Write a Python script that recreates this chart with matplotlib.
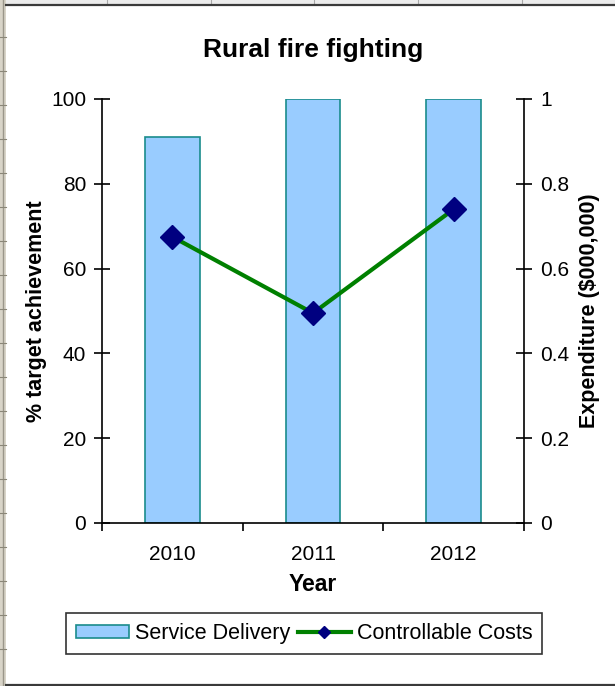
import matplotlib
matplotlib.use("Agg")
import matplotlib.pyplot as plt
from matplotlib.lines import Line2D
from matplotlib.patches import Rectangle

plt.rcParams['font.family'] = ['Liberation Sans', 'DejaVu Sans']

years = ['2010', '2011', '2012']
service_delivery = [91, 100, 100]          # % target achievement
controllable_costs = [0.675, 0.495, 0.74]  # expenditure ($000,000)
left_ticks = [0, 20, 40, 60, 80, 100]
right_ticks = [0, 0.2, 0.4, 0.6, 0.8, 1]
right_tick_labels = ['0', '0.2', '0.4', '0.6', '0.8', '1']

W, H, DPI = 615, 686, 100
fig = plt.figure(figsize=(W / DPI, H / DPI), dpi=DPI, facecolor='white')

# spreadsheet surroundings: header strip, column lines, row ticks, chart border
def px_line(x0, y0, x1, y1, color, lw):
    fig.add_artist(Line2D([x0 / W, x1 / W], [1 - y0 / H, 1 - y1 / H],
                          color=color, lw=lw, transform=fig.transFigure))

fig.add_artist(Rectangle((0, 1 - 4 / H), 1, 4 / H, transform=fig.transFigure,
                         facecolor='#ececec', edgecolor='none'))
for cx in [107, 211, 314, 418, 522]:
    px_line(cx, 0, cx, 4, '#a8a8a8', 0.8)
fig.add_artist(Rectangle((0, 0), 6 / W, 1, transform=fig.transFigure,
                         facecolor='#d8d4c8', edgecolor='none'))
px_line(3, 0, 3, H, '#9a968a', 1.0)
for ry in range(37, 680, 34):
    px_line(0, ry, 6, ry, '#8a8678', 0.8)
px_line(6, 5, W, 5, '#3a3a3a', 1.6)
px_line(6, 684.5, W, 684.5, '#3a3a3a', 1.6)

TICK_FS = 15
LABEL_FS = 15.5

ax = fig.add_axes([102 / W, 1 - 523 / H, (524 - 102) / W, (523 - 99) / H])
x = list(range(len(years)))
ax.bar(x, service_delivery, width=0.39, color='#99CCFF', edgecolor='#1A8C8C',
       linewidth=1.2, label='Service Delivery', zorder=2)
ax.set_xlim(-0.5, len(years) - 0.5)
ax.set_ylim(0, 100)
ax.set_yticks(left_ticks)
ax.set_yticklabels([str(t) for t in left_ticks])
ax.set_xticks(x)
ax.set_xticklabels(years)
ax.set_xticks([-0.5, 0.5, 1.5, 2.5], minor=True)
ax.tick_params(axis='x', which='major', length=0, pad=16, labelsize=TICK_FS)
ax.tick_params(axis='x', which='minor', direction='out', length=6, width=1.2)
ax.tick_params(axis='y', direction='inout', length=11, width=1.2, labelsize=TICK_FS, pad=6)
for side in ['top', 'right']:
    ax.spines[side].set_visible(False)
for side in ['left', 'bottom']:
    ax.spines[side].set_linewidth(1.2)
ax.set_xlabel('Year', fontsize=LABEL_FS + 1, fontweight='bold', labelpad=6)
ax.set_ylabel('% target achievement', fontsize=LABEL_FS, fontweight='bold', labelpad=3)

ax2 = ax.twinx()
ax2.plot(x, controllable_costs, color='#008000', lw=3.0, marker='D', markersize=12.5,
         markerfacecolor='#000080', markeredgecolor='#000080',
         label='Controllable Costs', zorder=3)
ax2.set_ylim(0, 1)
ax2.set_yticks(right_ticks)
ax2.set_yticklabels(right_tick_labels)
ax2.tick_params(axis='y', direction='inout', length=11, width=1.2, labelsize=TICK_FS, pad=6)
for side in ['top', 'left', 'bottom']:
    ax2.spines[side].set_visible(False)
ax2.spines['right'].set_linewidth(1.2)
ax2.set_ylabel('Expenditure ($000,000)', fontsize=LABEL_FS, fontweight='bold', labelpad=7)

fig.text(313 / W, 1 - 50 / H, 'Rural fire fighting', ha='center', va='center',
         fontsize=19, fontweight='bold')

h1, l1 = ax.get_legend_handles_labels()
line_handle = Line2D([], [], color='#008000', lw=3.0, marker='D', markersize=6.5,
                     markerfacecolor='#000080', markeredgecolor='#000080')
leg = fig.legend([h1[0], line_handle], [l1[0], 'Controllable Costs'],
                 loc='center', bbox_to_anchor=(304 / W, 1 - 633.5 / H), ncol=2,
                 fontsize=LABEL_FS, frameon=True, fancybox=False, edgecolor='black',
                 handlelength=2.5, handleheight=0.55, handletextpad=0.25,
                 columnspacing=0.35, borderpad=0.45, borderaxespad=0)
leg.get_frame().set_linewidth(1.2)

fig.savefig('out.png', dpi=DPI, facecolor='white')
